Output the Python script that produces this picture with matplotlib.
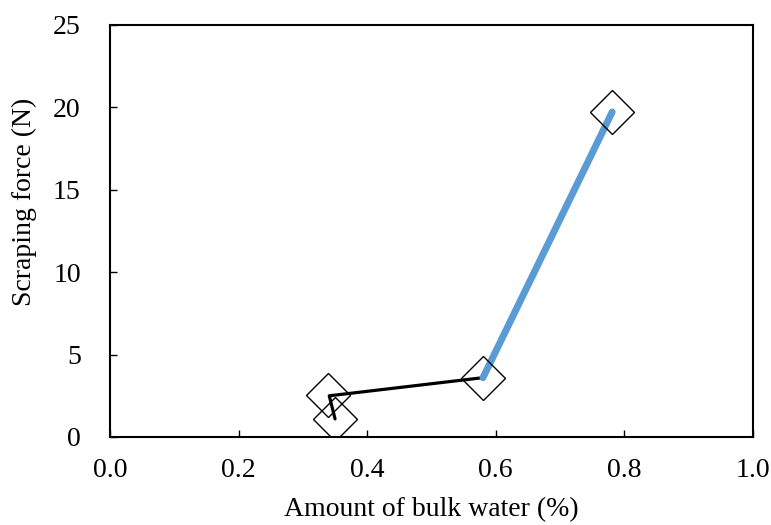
import matplotlib
matplotlib.use("Agg")
import matplotlib.pyplot as plt

# data
pts_x = [0.339, 0.350, 0.580, 0.781]
pts_y = [2.55, 1.09, 3.58, 19.72]

black_x = [0.350, 0.341, 0.580]
black_y = [1.10, 2.50, 3.60]

blue_x = [0.580, 0.781]
blue_y = [3.60, 19.72]

xticks = [0.0, 0.2, 0.4, 0.6, 0.8, 1.0]
yticks = [0, 5, 10, 15, 20, 25]

plt.rcParams['font.family'] = ['Liberation Serif', 'DejaVu Serif']
plt.rcParams['font.size'] = 20

fig = plt.figure(figsize=(7.71, 5.25), dpi=100)
ax = fig.add_axes([110/771, 88/525, 643/771, 412/525])

ax.plot(black_x, black_y, color='black', lw=2.3, solid_capstyle='round', zorder=2)
ax.plot(blue_x, blue_y, color='#5B9BD5', lw=5, solid_capstyle='round', zorder=3)
ax.plot(pts_x, pts_y, ls='none', marker='D', ms=22, mfc='none', mec='black', mew=1.0, zorder=4)

ax.set_xlim(0, 1)
ax.set_ylim(0, 25)
ax.set_xticks(xticks)
ax.set_xticklabels(['%.1f' % v for v in xticks])
ax.set_yticks(yticks)
ax.tick_params(axis='x', direction='in', length=5, width=1, pad=15, top=False)
ax.tick_params(axis='y', direction='in', length=5, width=1, pad=21, right=False)
for s in ax.spines.values():
    s.set_linewidth(1.5)

ax.set_xlabel('Amount of bulk water (%)', labelpad=10)
ax.set_ylabel('Scraping force (N)')
ax.yaxis.set_label_coords(-0.1135, 0.57)

fig.savefig('out.png', dpi=100)
